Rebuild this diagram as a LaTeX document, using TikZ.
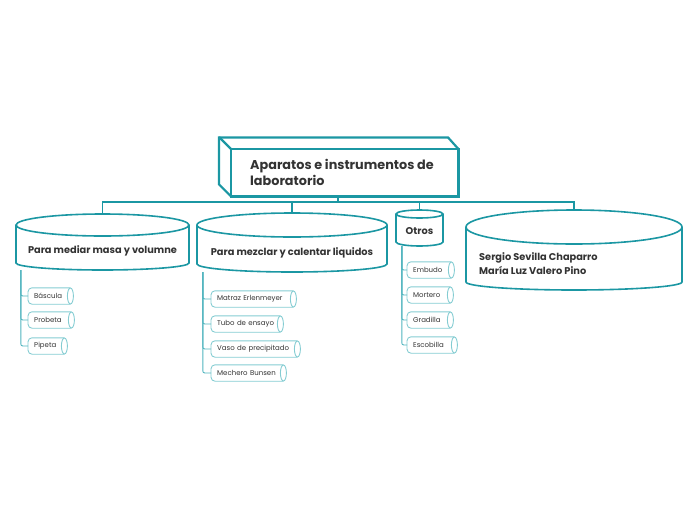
\documentclass[tikz,border=0pt]{standalone}
\usepackage{fontspec}
\setmainfont{Poppins}
\usetikzlibrary{calc}
\definecolor{teal1}{RGB}{27,151,163}
\definecolor{teal2}{RGB}{132,204,210}
\definecolor{teal3}{RGB}{80,180,190}
\definecolor{txt}{RGB}{51,51,51}
\tikzset{
 cylline/.style={draw=teal1, line width=1.6pt, fill=white},
 mainline/.style={draw=teal1, line width=2.2pt, line join=miter},
 bus/.style={draw=teal1, line width=1.5pt},
 branch/.style={draw=teal3, line width=0.9pt, rounded corners=2pt},
 itemline/.style={draw=teal2, line width=0.9pt},
 itemnode/.style={inner ysep=0pt, inner xsep=6pt, minimum height=16pt, align=left, font=\fontsize{7}{8}\selectfont, text=txt},
 frame/.style={inner sep=0pt, draw=none},
 cyltext/.style={font=\bfseries\fontsize{9.8}{14}\selectfont, text=txt, inner sep=0pt},
}
\newcommand\itembox[5]{%
 \pgfmathsetmacro\tw{#3-#2-12}%
 \node[itemnode, text width=\tw pt, anchor=west] (#1) at (#2,-#4) {#5};
 \draw[itemline, rounded corners=4pt] ([xshift=-3pt]#1.north east) -- (#1.north west) -- (#1.south west) -- ([xshift=-3pt]#1.south east);
 \draw[itemline] ([xshift=-3pt]#1.east) ellipse [x radius=3pt, y radius=8pt];
}
\begin{document}
\begin{tikzpicture}[x=1pt,y=1pt]
\useasboundingbox (0,0) rectangle (697,-520);
\coordinate (busy) at (0,-202);
% main box
\node[frame, minimum width=227pt, minimum height=47pt, anchor=north west] (main) at (231,-149) {};
\draw[mainline] (main.north west) rectangle (main.south east);
\draw[mainline] (main.south west) -- ++(-12,12) -- ++(0,47) -- ++(229,0) -- (main.north east);
\draw[mainline] (main.north west) -- ++(-12,12);
\node[anchor=base west, align=left, font=\bfseries\fontsize{12.8}{16}\selectfont, text=txt, inner sep=0pt] (maint) at (250,-185) {Aparatos e instrumentos de\\laboratorio};
% cylinders frames
\node[frame, minimum width=173pt, minimum height=56pt] (c1) at (102.5,-242) {};
\node[frame, minimum width=190pt, minimum height=59pt] (c2) at (292,-242.5) {};
\node[frame, minimum width=47pt, minimum height=36pt] (c3) at (419.5,-228) {};
\node[frame, minimum width=216pt, minimum height=80pt] (c4) at (574,-250) {};
% bus
\draw[bus] ([xshift=-6.5pt]main.south) -- ([xshift=-6.5pt]main.south |- busy);
\draw[bus] (c1.north) -- (c1.north |- busy) -| (c4.north);
\draw[bus] (c2.north) -- (c2.north |- busy);
\draw[bus] (c3.north) -- (c3.north |- busy);
% cylinder shapes
\draw[cylline] (16,-225) -- (16,-263) arc[start angle=180,end angle=360,x radius=86.5pt,y radius=7pt] -- (189,-225);
\draw[cylline] (102.5,-225) ellipse[x radius=86.5pt, y radius=11pt];
\draw[cylline] (197,-225) -- (197,-264) arc[start angle=180,end angle=360,x radius=95pt,y radius=8pt] -- (387,-225);
\draw[cylline] (292,-225) ellipse[x radius=95pt, y radius=12pt];
\draw[cylline] (396,-214) -- (396,-242) arc[start angle=180,end angle=360,x radius=23.5pt,y radius=4pt] -- (443,-214);
\draw[cylline] (419.5,-214) ellipse[x radius=23.5pt, y radius=4pt];
\draw[cylline] (466,-227) -- (466,-282) arc[start angle=180,end angle=360,x radius=108pt,y radius=8pt] -- (682,-227);
\draw[cylline] (574,-227) ellipse[x radius=108pt, y radius=17pt];
% cylinder texts
\node[cyltext] (c1t) at (102.5,-251) {Para mediar masa y volumne};
\node[cyltext] (c2t) at (292,-253) {Para mezclar y calentar liquidos};
\node[cyltext] (c3t) at (419.5,-231) {Otros};
\node[cyltext, anchor=west, align=left] (c4t) at (479,-264) {Sergio Sevilla Chaparro\\María Luz Valero Pino};
% items
\itembox{bascula}{28}{73}{296}{Báscula}
\itembox{probeta}{28}{74}{320}{Probeta}
\itembox{pipeta}{28}{67}{346}{Pipeta}
\itembox{matraz}{211}{296}{299}{Matraz Erlenmeyer}
\itembox{tubo}{211}{283}{324}{Tubo de ensayo}
\itembox{vaso}{211}{300}{349}{Vaso de precipitado}
\itembox{mechero}{211}{286}{373}{Mechero Bunsen}
\itembox{embudo}{407}{454}{270}{Embudo}
\itembox{mortero}{407}{453}{295}{Mortero}
\itembox{gradilla}{407}{453}{320}{Gradilla}
\itembox{escobilla}{407}{457}{345}{Escobilla}
% branches
\foreach \n in {bascula,probeta,pipeta}
  \draw[branch] ([xshift=5pt]c1.south west) |- (\n.west);
\foreach \n in {matraz,tubo,vaso,mechero}
  \draw[branch] ([xshift=6pt]c2.south west) |- (\n.west);
\foreach \n in {embudo,mortero,gradilla,escobilla}
  \draw[branch] ([xshift=6pt]c3.south west) |- (\n.west);
\end{tikzpicture}
\end{document}
